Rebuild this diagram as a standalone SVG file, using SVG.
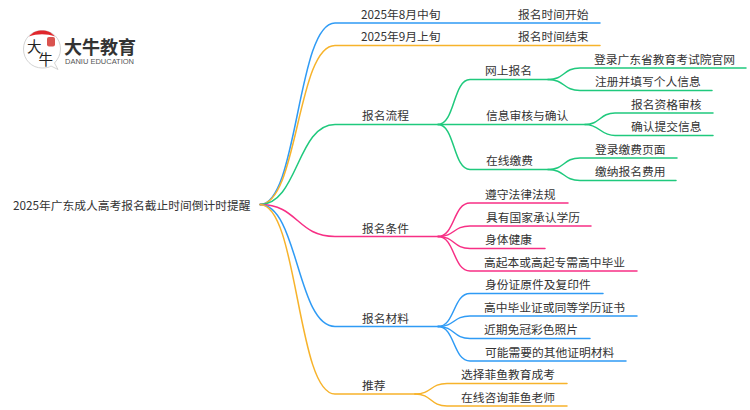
<svg xmlns="http://www.w3.org/2000/svg" width="750" height="410" viewBox="0 0 750 410">
<style>
text{font-family:"Noto Sans CJK SC","Noto Sans",sans-serif;font-size:11.75px;fill:#333}
.c{fill:none;stroke-width:1.5;stroke-linecap:round}
.b{stroke:#2f9bf5}.y{stroke:#f7b32b}.g{stroke:#1fc97d}.p{stroke:#f72f85}
</style>
<rect width="750" height="410" fill="#fff"/>
<g id="connectors">
<path class="c b" d="M260 204.500C298 204.500 297 23 335 23H600"/>
<path class="c y" d="M260 204.500C298 204.500 297 45.500 335 45.500H600"/>
<path class="c g" d="M260 204.500C298 204.500 297 124.500 335 124.500H438"/>
<path class="c p" d="M260 204.500C298 204.500 297 236.500 335 236.500H438"/>
<path class="c b" d="M260 204.500C298 204.500 297 326.500 335 326.500H438"/>
<path class="c y" d="M260 204.500C298 204.500 297 394 335 394H415"/>
<path class="c g" d="M438 124.500C455 124.500 453 79.500 470 79.500H548"/>
<path class="c g" d="M438 124.500H585"/>
<path class="c g" d="M438 124.500C455 124.500 453 169.500 470 169.500H548"/>
<path class="c g" d="M548 79.500C565 79.500 563 68 580 68H746"/>
<path class="c g" d="M548 79.500C565 79.500 563 90.500 580 90.500H712"/>
<path class="c g" d="M585 124.500C600 124.500 600 113 615 113H713"/>
<path class="c g" d="M585 124.500C600 124.500 600 135.500 615 135.500H713"/>
<path class="c g" d="M548 169.500C565 169.500 563 158 580 158H677"/>
<path class="c g" d="M548 169.500C565 169.500 563 180.500 580 180.500H676"/>
<path class="c p" d="M438 236.500C455 236.500 453 203 470 203H568"/>
<path class="c p" d="M438 236.500C455 236.500 453 226 470 226H591"/>
<path class="c p" d="M438 236.500C455 236.500 453 248.500 470 248.500H545"/>
<path class="c p" d="M438 236.500C455 236.500 453 271 470 271H637"/>
<path class="c b" d="M438 326.500C455 326.500 453 293.500 470 293.500H603"/>
<path class="c b" d="M438 326.500C455 326.500 453 316 470 316H637"/>
<path class="c b" d="M438 326.500C455 326.500 453 338.500 470 338.500H590"/>
<path class="c b" d="M438 326.500C455 326.500 453 361 470 361H626"/>
<path class="c y" d="M415 394C432 394 430 383.500 447 383.500H567"/>
<path class="c y" d="M415 394C432 394 430 406 447 406H567"/>
</g>
<g id="logo">
<path d="M42 30.500C31 30.500 23.500 39 23.500 49C23.500 60 32 68 42 68C46 68 49 67.500 51 66L58 69.500L54.500 63C58 59 60.500 55 60.500 49C60.500 39 53 30.500 42 30.500Z" fill="#fff" stroke="#c8c8c8" stroke-width="0.8"/>
<path d="M29 36.500C33 32 37 30.500 42 30.500C47 30.500 51 32 55 36.500C47 33.500 37 33.500 29 36.500Z" fill="#e0262b"/>
<rect x="47" y="37" width="8" height="9.500" rx="2" fill="#d9534f"/>
<text x="27" y="52" style="font-size:14.500px;fill:#222">大</text>
<text x="38.500" y="65" style="font-size:14.500px;fill:#222">牛</text>
<text x="64" y="53.500" style="font-size:18px;font-weight:700;fill:#333">大牛教育</text>
<text x="65" y="64" style="font-size:7.500px;font-family:'Liberation Sans',sans-serif;fill:#555">DANIU EDUCATION</text>
</g>
<g id="root"><text x="13" y="210">2025年广东成人高考报名截止时间倒计时提醒</text></g>
<g id="n1"><text x="361" y="19">2025年8月中旬</text></g>
<g id="n1a"><text x="518" y="19">报名时间开始</text></g>
<g id="n2"><text x="361" y="41">2025年9月上旬</text></g>
<g id="n2a"><text x="518" y="41">报名时间结束</text></g>
<g id="n3"><text x="362" y="120">报名流程</text></g>
<g id="n31"><text x="485" y="75">网上报名</text></g>
<g id="n311"><text x="594" y="64">登录广东省教育考试院官网</text></g>
<g id="n312"><text x="595" y="86">注册并填写个人信息</text></g>
<g id="n32"><text x="486" y="120">信息审核与确认</text></g>
<g id="n321"><text x="631" y="109">报名资格审核</text></g>
<g id="n322"><text x="631" y="131">确认提交信息</text></g>
<g id="n33"><text x="486" y="165">在线缴费</text></g>
<g id="n331"><text x="595" y="154">登录缴费页面</text></g>
<g id="n332"><text x="595" y="176">缴纳报名费用</text></g>
<g id="n4"><text x="362" y="233">报名条件</text></g>
<g id="n41"><text x="485" y="199">遵守法律法规</text></g>
<g id="n42"><text x="486" y="222">具有国家承认学历</text></g>
<g id="n43"><text x="485" y="244">身体健康</text></g>
<g id="n44"><text x="484" y="267">高起本或高起专需高中毕业</text></g>
<g id="n5"><text x="362" y="323">报名材料</text></g>
<g id="n51"><text x="485" y="289">身份证原件及复印件</text></g>
<g id="n52"><text x="484" y="312">高中毕业证或同等学历证书</text></g>
<g id="n53"><text x="484" y="334">近期免冠彩色照片</text></g>
<g id="n54"><text x="485" y="357">可能需要的其他证明材料</text></g>
<g id="n6"><text x="362" y="390">推荐</text></g>
<g id="n61"><text x="461" y="379">选择菲鱼教育成考</text></g>
<g id="n62"><text x="461" y="402">在线咨询菲鱼老师</text></g>
</svg>
